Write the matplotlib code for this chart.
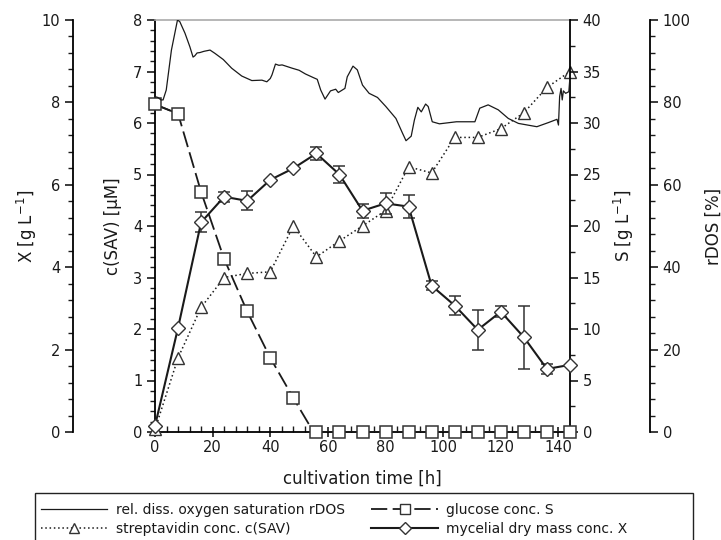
import numpy as np
import matplotlib
matplotlib.use('Agg')
import matplotlib.pyplot as plt
from matplotlib.ticker import MultipleLocator
from matplotlib.lines import Line2D
from matplotlib.patches import Rectangle

# данные
t = [0, 8, 16, 24, 32, 40, 48, 56, 64, 72, 80, 88, 96, 104, 112, 120, 128, 136, 144]

glucose_S = [31.8, 30.9, 23.3, 16.8, 11.7, 7.2, 3.3, 0, 0, 0, 0, 0, 0, 0, 0, 0, 0, 0, 0]

sav_c = [0.05, 1.44, 2.42, 3.0, 3.08, 3.11, 4.0, 3.40, 3.71, 4.0, 4.30, 5.15, 5.03, 5.72, 5.72, 5.89, 6.20, 6.69, 7.0]

mass_X = [0.15, 2.53, 5.09, 5.71, 5.61, 6.12, 6.40, 6.76, 6.25, 5.37, 5.55, 5.47, 3.55, 3.07, 2.48, 2.92, 2.30, 1.53, 1.63]
mass_X_err = [0, 0, 0.24, 0.12, 0.23, 0, 0, 0.16, 0.2, 0.17, 0.26, 0.28, 0.11, 0.23, 0.48, 0.14, 0.77, 0.13, 0]

# кривая rDOS (оцифровка по точкам)
t_dos = [0, 1.0, 2.1, 2.8, 3.9, 5.7, 7.8, 8.6, 10.4, 12.1, 13.2, 13.8, 14.6, 15.6, 17.0, 19.1, 20.8, 23.7,
         26.6, 30.1, 33.6, 37.1, 38.8, 40.0, 40.6, 41.8, 43.0, 44.1, 47.6, 50.0, 52.2, 55.0, 56.3, 57.5, 59.0,
         60.9, 62.7, 63.6, 65.9, 66.7, 68.7, 70.2, 72.0, 74.3, 77.2, 80.1, 83.6, 85.9, 87.1, 88.9,
         90.0, 91.2, 92.4, 93.9, 94.8, 96.2, 98.7, 104.6, 111.0, 112.7, 115.6, 119.1, 122.6, 126.1,
         132.5, 136.5, 139.5, 140.0, 140.4, 140.9, 141.3, 141.7, 142.5, 143.6, 144.0, 144.0]
rdos = [81.4, 81.2, 80.6, 80.6, 83.0, 92.7, 100.0, 99.6, 96.8, 93.5, 91.0, 91.3, 92.0, 92.1, 92.4, 92.7, 91.9, 90.4,
        88.3, 86.4, 85.3, 85.4, 85.0, 85.8, 86.7, 89.3, 89.0, 89.1, 88.3, 87.8, 86.9, 86.0, 85.6, 83.0, 80.8,
        82.8, 83.2, 82.4, 83.4, 86.2, 88.8, 87.9, 84.2, 82.2, 81.2, 79.0, 76.1, 72.5, 70.7, 71.8,
        75.7, 78.8, 77.7, 79.6, 79.0, 75.3, 74.8, 75.3, 75.3, 78.6, 79.4, 78.2, 76.1, 74.9,
        74.1, 75.1, 75.9, 74.5, 81.4, 83.4, 80.6, 82.8, 82.2, 82.6, 86.3, 87.4]

col = '#1a1a1a'
plt.rcParams['font.family'] = ['DejaVu Sans']
plt.rcParams['font.size'] = 10.5

fig = plt.figure(figsize=(7.21, 5.40), dpi=100)
ax = fig.add_axes([155/721, 1 - 432/540, 415/721, 412/540])
ax_s = ax.twinx()
ax_x = ax.twinx()
ax_r = ax.twinx()

for a in [ax, ax_s, ax_x, ax_r]:
    a.patch.set_visible(False)
    for sp in a.spines.values():
        sp.set_visible(False)

# оси
ax.spines['left'].set_visible(True)
ax.spines['bottom'].set_visible(True)
ax.spines['top'].set_visible(True)
ax.spines['top'].set_color('#aaaaaa')
ax.spines['top'].set_linewidth(1.2)
ax.spines['left'].set_linewidth(1.3)
ax.spines['bottom'].set_linewidth(1.3)

ax_s.spines['right'].set_visible(True)
ax_s.spines['right'].set_linewidth(1.3)

ax_x.spines['left'].set_visible(True)
ax_x.spines['left'].set_position(('axes', -0.1976))
ax_x.spines['left'].set_linewidth(1.3)
ax_x.yaxis.set_label_position('left')
ax_x.yaxis.set_ticks_position('left')

ax_r.spines['right'].set_visible(True)
ax_r.spines['right'].set_position(('axes', 1.193))
ax_r.spines['right'].set_linewidth(1.3)

ax.set_xlim(0, 144)
ax.set_ylim(0, 8)
ax_s.set_ylim(0, 40)
ax_x.set_ylim(0, 10)
ax_r.set_ylim(0, 100)

ax.xaxis.set_major_locator(MultipleLocator(20))
ax.xaxis.set_minor_locator(MultipleLocator(4))
ax.yaxis.set_major_locator(MultipleLocator(1))
ax.yaxis.set_minor_locator(MultipleLocator(0.2))
ax_s.yaxis.set_major_locator(MultipleLocator(5))
ax_s.yaxis.set_minor_locator(MultipleLocator(2.5))
ax_x.yaxis.set_major_locator(MultipleLocator(2))
ax_x.yaxis.set_minor_locator(MultipleLocator(0.4))
ax_r.yaxis.set_major_locator(MultipleLocator(20))
ax_r.yaxis.set_minor_locator(MultipleLocator(4))

ax.tick_params(axis='x', which='major', direction='inout', length=7, width=1.2, colors=col, pad=2)
ax.tick_params(axis='x', which='minor', direction='in', length=4, width=1.0, colors=col)
for a in [ax, ax_s, ax_x, ax_r]:
    a.tick_params(axis='y', which='major', direction='out', length=6, width=1.2, colors=col, pad=3)
    a.tick_params(axis='y', which='minor', direction='out', length=3.5, width=1.0, colors=col)

ax.set_xlabel('cultivation time [h]', fontsize=12, color=col, labelpad=11)
ax.set_ylabel('c(SAV) [µM]', fontsize=12, color=col, labelpad=8)
ax_s.set_ylabel('S [g L$^{-1}$]', fontsize=12, color=col, labelpad=8)
ax_x.set_ylabel('X [g L$^{-1}$]', fontsize=12, color=col, labelpad=2)
ax_r.set_ylabel('rDOS [%]', fontsize=12, color=col, labelpad=10)

# кривые
ax_r.plot(t_dos, rdos, color=col, lw=0.9, zorder=2)

ax_s.plot(t[:7] + [55], glucose_S[:7] + [0], color=col, lw=1.3, ls=(0, (9, 3)))
ax_s.plot(t[:2], glucose_S[:2], color=col, lw=1.3)
ax_s.plot(t[7:], glucose_S[7:], color=col, lw=1.3)
ax_s.plot(t, glucose_S, ls='none', marker='s', ms=9, mfc='white', mec='#333333', mew=1.1,
          zorder=4, clip_on=False)

ax.plot(t, sav_c, color=col, lw=1.1, ls=(0, (1, 1.8)), marker='^', ms=8,
        mfc='white', mec='#333333', mew=1.0, zorder=3, clip_on=False)

ax_x.errorbar(t, mass_X, yerr=mass_X_err, fmt='none', ecolor='#333333', elinewidth=1.1,
              capsize=4, capthick=1.1, zorder=4)
ax_x.plot(t, mass_X, color=col, lw=1.5, marker='D', ms=7, mfc='white', mec='#333333',
          mew=1.0, zorder=5, clip_on=False)

# легенда (рамка уходит за нижний край)
fig.patches.append(Rectangle((35/721, -0.02), 658/721, 0.02 + 47/540, transform=fig.transFigure,
                             fill=False, edgecolor='#222222', lw=1.0))
h_dos = Line2D([], [], color=col, lw=0.9)
h_sav = Line2D([], [], color=col, lw=1.1, ls=(0, (1, 1.8)), marker='^', ms=7, mfc='white', mec='#333333')
h_s = Line2D([], [], color=col, lw=1.3, ls=(0, (9, 3)), marker='s', ms=7, mfc='white', mec='#333333')
h_x = Line2D([], [], color=col, lw=1.5, marker='D', ms=6, mfc='white', mec='#333333')
leg = fig.legend([h_dos, h_sav, h_s, h_x],
                 ['rel. diss. oxygen saturation rDOS', 'streptavidin conc. c(SAV)',
                  'glucose conc. S', 'mycelial dry mass conc. X'],
                 loc='upper left', bbox_to_anchor=(38/721, 1 - 500/540),
                 ncol=2, fontsize=10, frameon=False, handlelength=4.8, handletextpad=0.6,
                 columnspacing=1.9, borderpad=0.2, labelspacing=0.35, borderaxespad=0)
for txt in leg.get_texts():
    txt.set_color(col)

fig.savefig('out.png', dpi=100)
